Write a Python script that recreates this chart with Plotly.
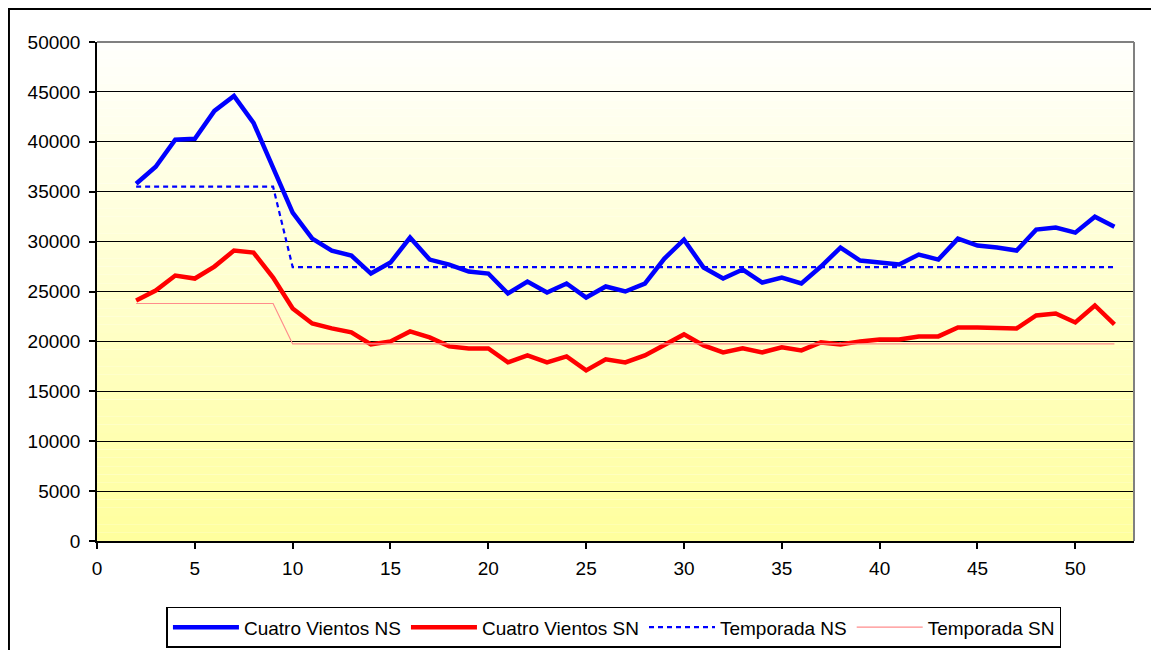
import plotly.graph_objects as go

weeks = list(range(2, 53))

cuatro_ns = [35800, 37500, 40200, 40300, 43100, 44600, 41900, 37300, 32900, 30300,
             29100, 28600, 26800, 27900, 30400, 28200, 27700, 27000, 26800, 24800,
             26000, 24900, 25800, 24400, 25500, 25000, 25800, 28300, 30200, 27400,
             26300, 27200, 25900, 26400, 25800, 27500, 29400, 28100, 27900, 27700,
             28700, 28200, 30300, 29600, 29400, 29100, 31200, 31400, 30900, 32500,
             31500]

cuatro_sn = [24100, 25100, 26600, 26300, 27500, 29100, 28900, 26400, 23300, 21800,
             21300, 20900, 19700, 20000, 21000, 20400, 19500, 19300, 19300, 17900,
             18600, 17900, 18500, 17100, 18200, 17900, 18600, 19600, 20700, 19600,
             18900, 19300, 18900, 19400, 19100, 19900, 19700, 20000, 20200, 20200,
             20500, 20500, 21400, 21400, 21400, 21300, 22600, 22800, 21900, 23600,
             21700]

temporada_ns = [35500] * 8 + [27450] * 43
temporada_sn = [23800] * 8 + [19750] * 43

x_ticks = [0, 5, 10, 15, 20, 25, 30, 35, 40, 45, 50]
y_ticks = [0, 5000, 10000, 15000, 20000, 25000, 30000, 35000, 40000, 45000, 50000]

font_family = "Liberation Sans, Arial, sans-serif"
fsize = 19

fig = go.Figure()
fig.add_trace(go.Scatter(x=weeks, y=cuatro_ns, mode="lines", name="Cuatro Vientos NS",
                         line=dict(color="#0000FF", width=4.5)))
fig.add_trace(go.Scatter(x=weeks, y=cuatro_sn, mode="lines", name="Cuatro Vientos SN",
                         line=dict(color="#FF0000", width=4.5)))
fig.add_trace(go.Scatter(x=weeks, y=temporada_ns, mode="lines", name="Temporada NS",
                         line=dict(color="#0000FF", width=2.2, dash="5px,4px")))
fig.add_trace(go.Scatter(x=weeks, y=temporada_sn, mode="lines", name="Temporada SN",
                         line=dict(color="#FF8C8C", width=1.2)))

# gradient background stripes (plot area)
shapes = []
n = 60
for i in range(n):
    t = i / (n - 1)  # 0 bottom -> 1 top
    b = int(round(158 + (252 - 158) * t))
    shapes.append(dict(type="rect", xref="paper", yref="paper",
                       x0=0, x1=1, y0=i / n, y1=(i + 1) / n,
                       fillcolor=f"rgb(255,255,{b})", line=dict(width=0),
                       layer="below"))
# plot border (gray top/right)
shapes.append(dict(type="line", xref="paper", yref="paper", x0=0, x1=1, y0=1, y1=1,
                   line=dict(color="#808080", width=2), layer="above"))
shapes.append(dict(type="line", xref="paper", yref="paper", x0=1, x1=1, y0=0, y1=1,
                   line=dict(color="#808080", width=2), layer="above"))
# outer chart border
shapes.append(dict(type="rect", xref="paper", yref="paper",
                   x0=-0.0849, x1=1.05, y0=-0.25, y1=1.0661,
                   line=dict(color="black", width=2), fillcolor="rgba(0,0,0,0)",
                   layer="above"))

fig.update_layout(
    width=1151, height=642,
    margin=dict(l=89, r=25, t=34, b=109, autoexpand=False),
    paper_bgcolor="white",
    plot_bgcolor="white",
    font=dict(family=font_family, size=fsize, color="black"),
    shapes=shapes,
    showlegend=True,
    legend=dict(orientation="h", x=0.4985, xanchor="center", y=-0.132, yanchor="top",
                bordercolor="black", borderwidth=1.5, bgcolor="white",
                font=dict(family=font_family, size=fsize, color="black"),
                itemwidth=66, tracegroupgap=0),
)
fig.update_xaxes(range=[0, 53], tickvals=x_ticks, ticktext=[str(v) for v in x_ticks],
                 showgrid=False, zeroline=False, showline=True, linecolor="black",
                 linewidth=1.5, ticks="outside", ticklen=6, tickcolor="black",
                 tickwidth=1.5, tickfont=dict(size=fsize), ticklabelstandoff=3)
fig.update_yaxes(range=[0, 50000], tickvals=y_ticks, ticktext=[str(v) for v in y_ticks],
                 showgrid=True, gridcolor="black", gridwidth=1.3, zeroline=False,
                 showline=True, linecolor="black", linewidth=1.5, ticks="outside",
                 ticklen=6, tickcolor="black", tickwidth=1.5, tickfont=dict(size=fsize),
                 ticklabelstandoff=5)

fig.write_html("out.html")
